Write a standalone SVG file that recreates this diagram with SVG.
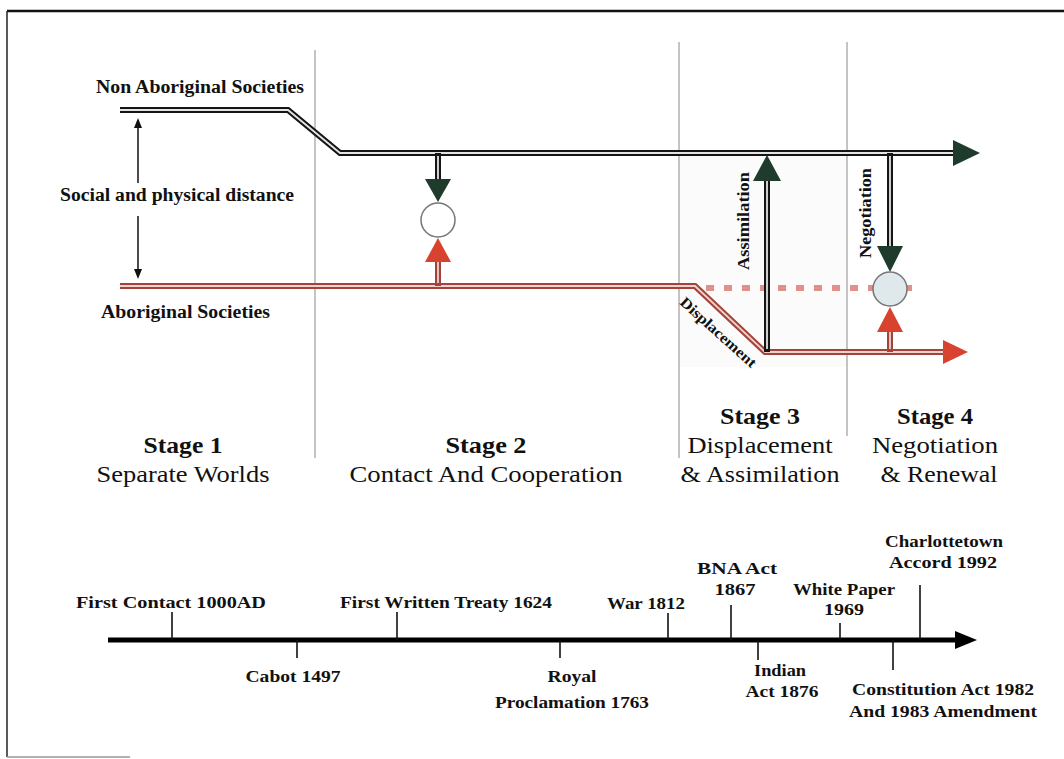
<svg xmlns="http://www.w3.org/2000/svg" width="1064" height="759" viewBox="0 0 1064 759">
  <style>
    .lbl { font-family: "Liberation Serif", "Times New Roman", serif; font-weight: bold; fill: #111; }
    .stg { font-family: "Liberation Serif", "Times New Roman", serif; fill: #111; font-size: 24px; text-anchor: middle; }
    .stg-b { font-weight: bold; }
    .div { stroke: #8a8a8a; stroke-width: 1; }
    .blk { fill: none; stroke: #151515; stroke-width: 6; stroke-linejoin: miter; }
    .blk-in { fill: none; stroke: #e4e4e4; stroke-width: 1.8; }
    .red { fill: none; stroke: #a2443a; stroke-width: 6; }
    .red-in { fill: none; stroke: #efd2cc; stroke-width: 1.8; }
    .grn-head { fill: #1f3b2c; }
    .red-head { fill: #d8432f; }
    .tick { stroke: #111; stroke-width: 1.6; }
    .tl { font-size: 17px; text-anchor: middle; }
  </style>

  <!-- frame -->
  <rect x="0" y="0" width="1064" height="759" fill="#ffffff"/>
  <line x1="7" y1="11" x2="1064" y2="11" stroke="#111" stroke-width="2.5"/>
  <line x1="7" y1="11" x2="7" y2="757" stroke="#222" stroke-width="1.5"/>
  <line x1="7" y1="757" x2="130" y2="757" stroke="#999" stroke-width="1.5"/>

  <!-- stage 3 panel tint -->
  <rect x="679" y="155" width="168" height="212" fill="#fbfbfb"/>

  <!-- stage dividers -->
  <g id="dividers">
    <line class="div" x1="315" y1="50" x2="315" y2="458"/>
    <line class="div" x1="679" y1="42" x2="679" y2="458"/>
    <line class="div" x1="847" y1="42" x2="847" y2="436"/>
  </g>

  <!-- society labels -->
  <g id="label-non-aboriginal">
    <text class="lbl" x="96" y="93" font-size="18" textLength="208" lengthAdjust="spacingAndGlyphs">Non Aboriginal Societies</text>
  </g>
  <g id="label-aboriginal">
    <text class="lbl" x="101" y="318" font-size="18" textLength="169" lengthAdjust="spacingAndGlyphs">Aboriginal Societies</text>
  </g>
  <g id="label-distance">
    <text class="lbl" x="60" y="201" font-size="18" textLength="234" lengthAdjust="spacingAndGlyphs">Social and physical distance</text>
    <line x1="138" y1="183" x2="138" y2="127" stroke="#111" stroke-width="1.5"/>
    <polygon points="134,128 142,128 138,118" fill="#111"/>
    <line x1="138" y1="216" x2="138" y2="270" stroke="#111" stroke-width="1.5"/>
    <polygon points="134,269 142,269 138,279" fill="#111"/>
  </g>

  <!-- connectors -->
  <g id="connectors">
    <!-- dotted path of the original course -->
    <line x1="706" y1="288" x2="918" y2="288" stroke="#e2918a" stroke-width="6" stroke-dasharray="8 10"/>

    <!-- non-aboriginal course -->
    <path class="blk" d="M120,110 L288,110 L340,153 L956,153"/>
    <path class="blk-in" d="M120,110 L288,110 L340,153 L956,153"/>
    <polygon class="grn-head" points="953,140 953,166 980,153"/>

    <!-- aboriginal course -->
    <path class="red" d="M120,286 L695,286 L765,352 L946,352"/>
    <path class="red-in" d="M120,286 L695,286 L765,352 L946,352"/>
    <polygon class="red-head" points="943,340 943,364 968,352"/>

    <!-- stage 2 contact -->
    <path class="blk" d="M438,153 L438,181"/>
    <path class="blk-in" d="M438,156 L438,181"/>
    <polygon class="grn-head" points="425,179 451,179 438,202"/>
    <path class="red" d="M438,260 L438,286"/>
    <path class="red-in" d="M438,260 L438,283"/>
    <polygon class="red-head" points="425,262 451,262 438,238"/>

    <!-- assimilation -->
    <path class="blk" d="M767,352 L767,179"/>
    <path class="blk-in" d="M767,349 L767,179"/>
    <polygon class="grn-head" points="753,181 781,181 767,155"/>

    <!-- negotiation -->
    <path class="blk" d="M890,153 L890,248"/>
    <path class="blk-in" d="M890,156 L890,248"/>
    <polygon class="grn-head" points="877,246 903,246 890,272"/>
    <path class="red" d="M890,330 L890,352"/>
    <path class="red-in" d="M890,330 L890,349"/>
    <polygon class="red-head" points="877,332 903,332 890,307"/>
  </g>

  <!-- meeting points -->
  <g id="meeting-stage2">
    <circle cx="438" cy="220" r="17" fill="#ffffff" stroke="#777" stroke-width="1.5"/>
  </g>
  <g id="meeting-stage4">
    <circle cx="890" cy="289" r="17" fill="#dfe8ea" stroke="#777" stroke-width="1.5"/>
  </g>

  <!-- path labels -->
  <g id="label-assimilation">
    <text class="lbl" font-size="17" text-anchor="middle" transform="translate(749,221) rotate(-90)" textLength="98" lengthAdjust="spacingAndGlyphs">Assimilation</text>
  </g>
  <g id="label-negotiation">
    <text class="lbl" font-size="17" text-anchor="middle" transform="translate(871,213) rotate(-90)" textLength="90" lengthAdjust="spacingAndGlyphs">Negotiation</text>
  </g>
  <g id="label-displacement">
    <text class="lbl" font-size="15" text-anchor="middle" transform="translate(715,336) rotate(42)" textLength="97" lengthAdjust="spacingAndGlyphs">Displacement</text>
  </g>

  <!-- stage titles -->
  <g id="stage-1">
    <text class="stg stg-b" x="183" y="453" textLength="79" lengthAdjust="spacingAndGlyphs">Stage 1</text>
    <text class="stg" x="183" y="482" textLength="173" lengthAdjust="spacingAndGlyphs">Separate Worlds</text>
  </g>
  <g id="stage-2">
    <text class="stg stg-b" x="486" y="453" textLength="81" lengthAdjust="spacingAndGlyphs">Stage 2</text>
    <text class="stg" x="486" y="482" textLength="273" lengthAdjust="spacingAndGlyphs">Contact And Cooperation</text>
  </g>
  <g id="stage-3">
    <text class="stg stg-b" x="760" y="424" textLength="80" lengthAdjust="spacingAndGlyphs">Stage 3</text>
    <text class="stg" x="760" y="453" textLength="145" lengthAdjust="spacingAndGlyphs">Displacement</text>
    <text class="stg" x="760" y="482" textLength="159" lengthAdjust="spacingAndGlyphs">&amp; Assimilation</text>
  </g>
  <g id="stage-4">
    <text class="stg stg-b" x="935" y="424" textLength="76" lengthAdjust="spacingAndGlyphs">Stage 4</text>
    <text class="stg" x="935" y="453" textLength="126" lengthAdjust="spacingAndGlyphs">Negotiation</text>
    <text class="stg" x="939" y="482" textLength="117" lengthAdjust="spacingAndGlyphs">&amp; Renewal</text>
  </g>

  <!-- timeline -->
  <g id="timeline">
    <line x1="108" y1="640" x2="958" y2="640" stroke="#000" stroke-width="5"/>
    <polygon points="955,631 955,649 977,640" fill="#000"/>
    <line class="tick" x1="172" y1="612" x2="172" y2="640"/>
    <line class="tick" x1="297" y1="640" x2="297" y2="658"/>
    <line class="tick" x1="397" y1="612" x2="397" y2="640"/>
    <line class="tick" x1="560" y1="640" x2="560" y2="658"/>
    <line class="tick" x1="668" y1="613" x2="668" y2="640"/>
    <line class="tick" x1="731" y1="605" x2="731" y2="640"/>
    <line class="tick" x1="758" y1="640" x2="758" y2="660"/>
    <line class="tick" x1="840" y1="623" x2="840" y2="640"/>
    <line class="tick" x1="893" y1="640" x2="893" y2="670"/>
    <line class="tick" x1="920" y1="585" x2="920" y2="640"/>
  </g>

  <g id="event-first-contact"><text class="lbl tl" x="171" y="608" textLength="190" lengthAdjust="spacingAndGlyphs">First Contact 1000AD</text></g>
  <g id="event-cabot"><text class="lbl tl" x="293" y="682" textLength="95" lengthAdjust="spacingAndGlyphs">Cabot 1497</text></g>
  <g id="event-treaty"><text class="lbl tl" x="446" y="608" textLength="212" lengthAdjust="spacingAndGlyphs">First Written Treaty 1624</text></g>
  <g id="event-proclamation">
    <text class="lbl tl" x="572" y="682" textLength="49" lengthAdjust="spacingAndGlyphs">Royal</text>
    <text class="lbl tl" x="572" y="708" textLength="154" lengthAdjust="spacingAndGlyphs">Proclamation 1763</text>
  </g>
  <g id="event-war"><text class="lbl tl" x="646" y="609" textLength="78" lengthAdjust="spacingAndGlyphs">War 1812</text></g>
  <g id="event-bna">
    <text class="lbl tl" x="737" y="574" textLength="80" lengthAdjust="spacingAndGlyphs">BNA Act</text>
    <text class="lbl tl" x="735" y="595" textLength="41" lengthAdjust="spacingAndGlyphs">1867</text>
  </g>
  <g id="event-indian-act">
    <text class="lbl tl" x="780" y="676" textLength="52" lengthAdjust="spacingAndGlyphs">Indian</text>
    <text class="lbl tl" x="782" y="697" textLength="73" lengthAdjust="spacingAndGlyphs">Act 1876</text>
  </g>
  <g id="event-white-paper">
    <text class="lbl tl" x="844" y="595" textLength="102" lengthAdjust="spacingAndGlyphs">White Paper</text>
    <text class="lbl tl" x="844" y="615" textLength="40" lengthAdjust="spacingAndGlyphs">1969</text>
  </g>
  <g id="event-constitution">
    <text class="lbl tl" x="943" y="695" textLength="182" lengthAdjust="spacingAndGlyphs">Constitution Act 1982</text>
    <text class="lbl tl" x="943" y="717" textLength="188" lengthAdjust="spacingAndGlyphs">And 1983 Amendment</text>
  </g>
  <g id="event-charlottetown">
    <text class="lbl tl" x="944" y="547" textLength="118" lengthAdjust="spacingAndGlyphs">Charlottetown</text>
    <text class="lbl tl" x="943" y="568" textLength="108" lengthAdjust="spacingAndGlyphs">Accord 1992</text>
  </g>
</svg>
